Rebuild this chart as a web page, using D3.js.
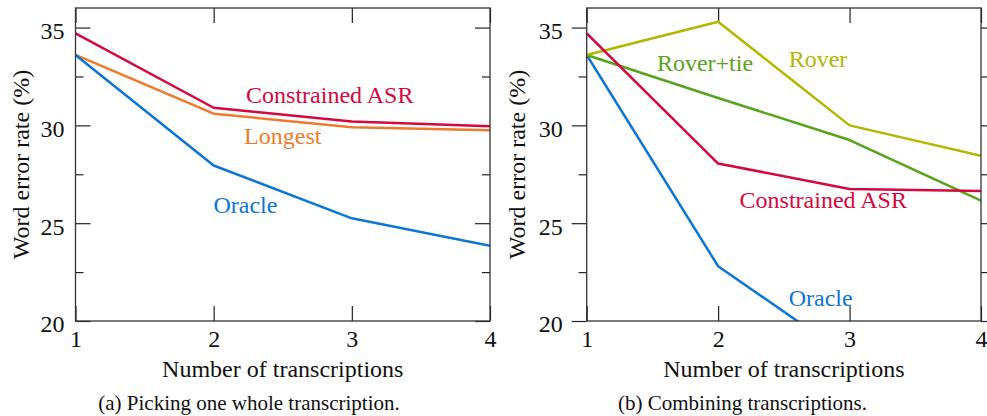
<!DOCTYPE html>
<html>
<head>
<meta charset="utf-8">
<script src="https://cdn.jsdelivr.net/npm/d3@7"></script>
<style>
  body { margin: 0; background: #fff; }
</style>
</head>
<body>
<svg class="chart"></svg>
<script>
// number of transcriptions on the x axis
var transcriptions = [1, 2, 3, 4];

// (a) picking one whole transcription
var pickConstrained = [34.7, 30.9, 30.2, 29.95];
var pickLongest = [33.6, 30.6, 29.9, 29.75];
var pickOracle = [33.6, 27.95, 25.25, 23.85];

// (b) combining transcriptions
var combRover = [33.6, 35.3, 30.0, 28.45];
var combRoverTie = [33.6, 31.4, 29.25, 26.15];
var combConstrained = [34.7, 28.05, 26.75, 26.65];
var combOracle = [33.6, 22.8, 18.15, 16.0];

var yMajor = [20, 25, 30, 35];
var yMinor = [22.5, 27.5, 32.5];
var yDomain = [20, 36];

var colors = {
  constrained: '#d6073f',
  longest: '#ee7b2c',
  oracle: '#0b76d8',
  rover: '#b5b600',
  roverTie: '#58a31c'
};

var FONT = '"Liberation Serif", Tinos, "Times New Roman", serif';

var svgwidth = 987;
var svgheight = 416;

var svg = d3.select('.chart').attr('width', svgwidth).attr('height', svgheight);

var yscale = d3.scaleLinear().domain(yDomain).range([321, 8]);

var drawPanel = function(opts){

  var xscale = d3.scaleLinear().domain([1, 4]).range(opts.xrange);
  var g = svg.append('g').classed('panel', true);
  var x0 = opts.xrange[0], x1 = opts.xrange[1];
  var y0 = yscale(yDomain[1]), y1 = yscale(yDomain[0]);
  var dir = opts.outward ? 1 : -1;

  var clipId = 'clip' + opts.id;
  g.append('clipPath').attr('id', clipId).append('rect')
   .attr('x', x0).attr('y', y0).attr('width', x1 - x0).attr('height', y1 - y0);

  // y ticks, left and right
  var leftAx = d3.axisLeft(yscale).tickValues(yMajor).tickSizeInner(15 * dir).tickSizeOuter(0)
                 .tickPadding(opts.outward ? 9 : 11).tickFormat(d3.format('d'));
  var la = g.append('g').attr('transform', 'translate(' + x0 + ',0)').call(leftAx);
  la.select('.domain').remove();
  la.selectAll('text').attr('dy', '0.45em');

  g.append('g').attr('transform', 'translate(' + x0 + ',0)')
   .call(d3.axisLeft(yscale).tickValues(yMinor).tickSizeInner(8 * dir).tickSizeOuter(0).tickFormat(''))
   .select('.domain').remove();

  g.append('g').attr('transform', 'translate(' + x1 + ',0)')
   .call(d3.axisRight(yscale).tickValues(yMajor).tickSizeInner(15 * dir).tickSizeOuter(0).tickFormat(''))
   .select('.domain').remove();
  g.append('g').attr('transform', 'translate(' + x1 + ',0)')
   .call(d3.axisRight(yscale).tickValues(yMinor).tickSizeInner(8 * dir).tickSizeOuter(0).tickFormat(''))
   .select('.domain').remove();

  // x ticks, bottom and top (inward)
  var botAx = d3.axisBottom(xscale).tickValues(transcriptions).tickSizeInner(-15).tickSizeOuter(0)
                .tickPadding(9).tickFormat(d3.format('d'));
  var ba = g.append('g').attr('transform', 'translate(0,' + y1 + ')').call(botAx);
  ba.select('.domain').remove();

  g.append('g').attr('transform', 'translate(0,' + y0 + ')')
   .call(d3.axisTop(xscale).tickValues(transcriptions).tickSizeInner(-15).tickSizeOuter(0).tickFormat(''))
   .select('.domain').remove();

  g.selectAll('.tick line').attr('stroke', '#222').attr('stroke-width', 1.2);
  g.selectAll('.tick text').style('font-family', FONT).style('font-size', '24px').attr('fill', '#111');

  // series
  var linegen = d3.line().x(function(d, i){ return xscale(transcriptions[i]); })
                         .y(function(d){ return yscale(d); });

  g.append('g').attr('clip-path', 'url(#' + clipId + ')')
   .selectAll('.series').data(opts.series).enter().append('path')
   .attr('d', function(d){ return linegen(d.values); })
   .attr('fill', 'none')
   .attr('stroke', function(d){ return d.color; })
   .attr('stroke-width', 2.5)
   .attr('stroke-linejoin', 'round');

  // frame
  g.append('rect').attr('x', x0).attr('y', y0).attr('width', x1 - x0).attr('height', y1 - y0)
   .attr('fill', 'none').attr('stroke', '#333').attr('stroke-width', 1.3);

  // series labels
  g.selectAll('.serieslabel').data(opts.labels).enter().append('text')
   .attr('x', function(d){ return xscale(d.x); })
   .attr('y', function(d){ return yscale(d.y); })
   .attr('text-anchor', 'middle')
   .style('font-family', FONT)
   .style('font-size', '24px')
   .attr('fill', function(d){ return d.color; })
   .text(function(d){ return d.name; });

  // axis titles
  g.append('text')
   .attr('transform', 'translate(' + opts.ylabelx + ',' + ((y0 + y1) / 2) + ') rotate(-90)')
   .attr('text-anchor', 'middle')
   .style('font-family', FONT)
   .style('font-size', '24px')
   .attr('fill', '#111')
   .text('Word error rate (%)');

  g.append('text')
   .attr('x', (x0 + x1) / 2).attr('y', 377)
   .attr('text-anchor', 'middle')
   .style('font-family', FONT)
   .style('font-size', '24px')
   .attr('fill', '#111')
   .text('Number of transcriptions');

  g.append('text')
   .attr('x', opts.captionx).attr('y', 410)
   .attr('text-anchor', 'middle')
   .style('font-family', FONT)
   .style('font-size', '21px')
   .attr('fill', '#111')
   .text(opts.caption);
}

drawPanel({
  id: 'a',
  xrange: [75.5, 490],
  outward: false,
  ylabelx: 29,
  captionx: 249,
  caption: '(a) Picking one whole transcription.',
  series: [
    {values: pickLongest, color: colors.longest},
    {values: pickOracle, color: colors.oracle},
    {values: pickConstrained, color: colors.constrained}
  ],
  labels: [
    {name: 'Constrained ASR', x: 2.84, y: 31.12, color: colors.constrained},
    {name: 'Longest', x: 2.50, y: 29.03, color: colors.longest},
    {name: 'Oracle', x: 2.23, y: 25.51, color: colors.oracle}
  ]
});

drawPanel({
  id: 'b',
  xrange: [586.7, 981],
  outward: true,
  ylabelx: 525,
  captionx: 742.5,
  caption: '(b) Combining transcriptions.',
  series: [
    {values: combOracle, color: colors.oracle},
    {values: combRoverTie, color: colors.roverTie},
    {values: combRover, color: colors.rover},
    {values: combConstrained, color: colors.constrained}
  ],
  labels: [
    {name: 'Rover+tie', x: 1.90, y: 32.76, color: colors.roverTie},
    {name: 'Rover', x: 2.76, y: 32.96, color: colors.rover},
    {name: 'Constrained ASR', x: 2.80, y: 25.77, color: colors.constrained},
    {name: 'Oracle', x: 2.78, y: 20.77, color: colors.oracle}
  ]
});
</script>
</body>
</html>
